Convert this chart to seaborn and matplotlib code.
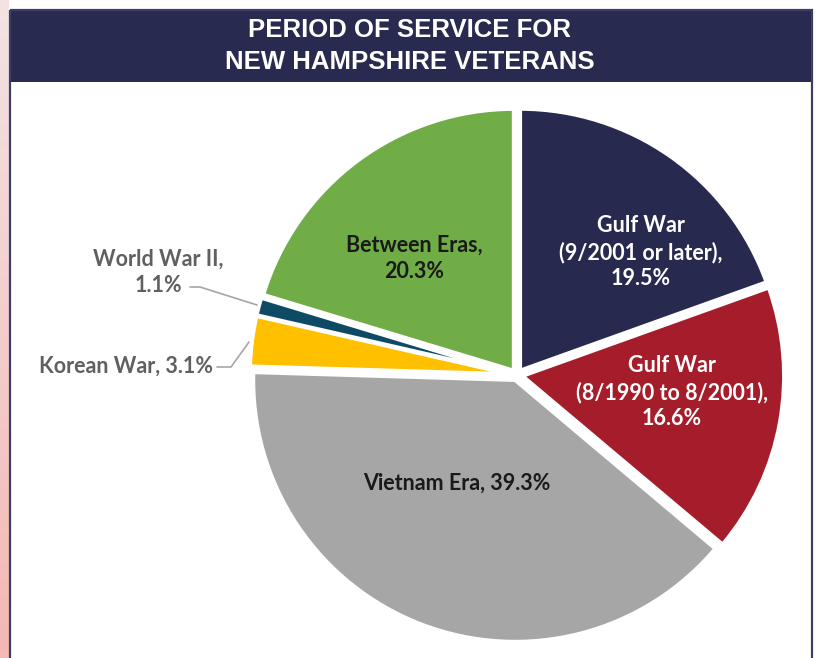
import numpy as np
import seaborn as sns
import matplotlib.pyplot as plt
from matplotlib.patches import Rectangle
from matplotlib import font_manager

sns.set_theme(style="white")

# data
eras = ['Gulf War\n(9/2001 or later),', 'Gulf War\n(8/1990 to 8/2001),', 'Vietnam Era,',
        'Korean War,', 'World War II,', 'Between Eras,']
shares = [19.5, 16.6, 39.3, 3.1, 1.1, 20.3]
colors = ['#28294f', '#a51c2a', '#a6a6a6', '#ffc000', '#0e4a64', '#70ad47']
title_lines = ['PERIOD OF SERVICE FOR', 'NEW HAMPSHIRE VETERANS']

names = [f.name for f in font_manager.fontManager.ttflist]
title_font = 'Liberation Sans Narrow' if 'Liberation Sans Narrow' in names else 'Liberation Sans'
label_font = 'Lato'

W, H = 817, 658
fig = plt.figure(figsize=(W / 100, H / 100), dpi=100)
fig.patch.set_facecolor('white')


def fx(x):
    return x / W


def fy(y):
    return 1 - y / H


# background / frame (pixel coordinates)
bg = fig.add_axes([0, 0, 1, 1])
bg.axis('off')
grad = np.linspace(0, 1, 200)[:, None]
bg.imshow(grad, extent=[0, 9, H, 0], cmap=sns.light_palette('#f4b8b5', as_cmap=True),
          aspect='auto', vmin=-0.3, vmax=1)
bg.add_patch(Rectangle((9, 10), 803, 72, facecolor='#282a4f', edgecolor='none'))
bg.add_patch(Rectangle((10, 10), 802, 660, facecolor='none', edgecolor='#3c3e68', lw=1.6))
bg.set_xlim(0, W)
bg.set_ylim(H, 0)

for i, t in enumerate(title_lines):
    bg.text(410, 30 + i * 32, t, ha='center', va='center', color='white',
            fontsize=18.5, fontweight='bold', family=title_font)

# pie
cx, cy, R = 517, 375, 262
ax = fig.add_axes([fx(cx - R), fy(cy + R), 2 * R / W, 2 * R / H])
wedges, _ = ax.pie(shares, colors=colors, startangle=90, counterclock=False,
                   explode=[0.02] * len(shares),
                   wedgeprops=dict(edgecolor='white', linewidth=3))
for w in wedges:
    w.set_clip_on(False)
ax.set_xlim(-1, 1)
ax.set_ylim(-1, 1)
ax.set_aspect('auto')
ax.axis('off')

# labels on an overlay axes above the pie
top = fig.add_axes([0, 0, 1, 1])
top.set_xlim(0, W)
top.set_ylim(H, 0)
top.axis('off')
top.patch.set_alpha(0)

fs = 15.5
inside = {0: (641, 252, 'white'), 1: (672, 392, 'white'), 2: (457, 483, '#1a1a1a'),
          5: (414, 258, '#1a1a1a')}
for i, (x, y, c) in inside.items():
    name = eras[i]
    txt = f'{name} {shares[i]}%' if i == 2 else f'{name}\n{shares[i]}%'
    top.text(x, y, txt, ha='center', va='center', color=c, fontsize=fs,
             fontweight='bold', family=label_font, linespacing=1.3)

gray = '#606060'
top.text(158, 272, f'{eras[4]}\n{shares[4]}%', ha='center', va='center', color=gray,
         fontsize=fs, fontweight='bold', family=label_font, linespacing=1.3)
top.text(213, 366, f'{eras[3]} {shares[3]}%', ha='right', va='center', color=gray,
         fontsize=fs, fontweight='bold', family=label_font)
top.plot([190, 200, 257], [287, 287, 305], color='#a6a6a6', lw=1.2)
top.plot([217, 231, 249], [367, 367, 342], color='#a6a6a6', lw=1.2)

fig.savefig('out.png', dpi=100)
